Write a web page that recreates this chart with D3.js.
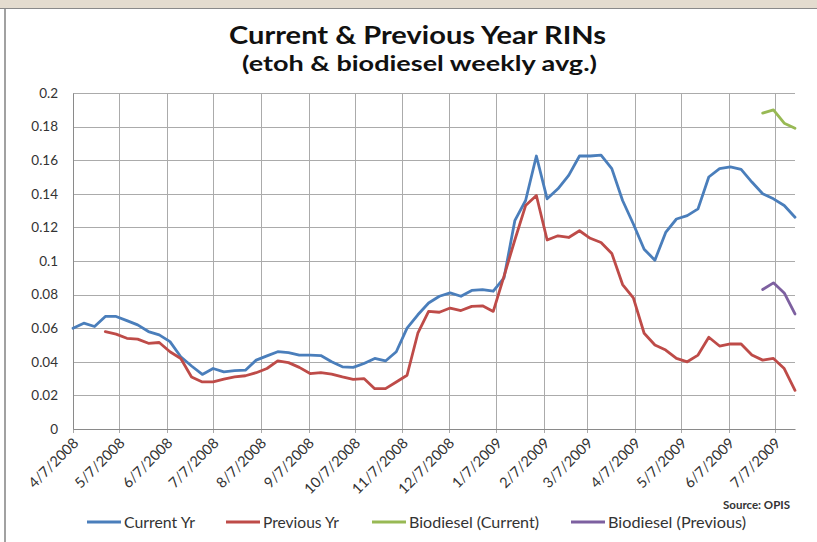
<!DOCTYPE html>
<html>
<head>
<meta charset="utf-8">
<script src="https://cdn.jsdelivr.net/npm/d3@7"></script>
<style>
  body { margin: 0; background: #fff; }
  svg { display: block; font-family: Lato, "Open Sans", sans-serif; }
</style>
</head>
<body>
<svg id="chart" width="817" height="542"></svg>
<script>
// ---- data ----
const startDate = "4/7/2008";
const weekCount = 68;
const currentYr = [0.060,0.063,0.061,0.067,0.067,0.0645,0.062,0.058,0.056,0.052,
  0.043,0.0375,0.0325,0.036,0.034,0.0347,0.035,0.041,0.0435,0.046,
  0.0455,0.044,0.044,0.0437,0.040,0.037,0.0367,0.039,0.042,0.0405,
  0.046,0.060,0.068,0.075,0.079,0.081,0.079,0.0825,0.083,0.082,
  0.090,0.124,0.136,0.1625,0.137,0.143,0.151,0.1625,0.1625,0.163,
  0.155,0.136,0.122,0.107,0.1005,0.117,0.125,0.127,0.131,0.150,
  0.155,0.156,0.1545,0.147,0.140,0.137,0.133,0.126];
const previousYr = [null,null,null,0.058,0.0565,0.054,0.0535,0.051,0.0515,0.046,
  0.042,0.031,0.028,0.028,0.0297,0.031,0.0317,0.0335,0.036,0.0405,
  0.0395,0.0367,0.033,0.0335,0.0327,0.031,0.0295,0.030,0.024,0.024,
  0.028,0.032,0.057,0.070,0.0695,0.072,0.0705,0.073,0.0733,0.070,
  0.091,0.1125,0.133,0.139,0.1125,0.115,0.114,0.118,0.1135,0.111,
  0.1045,0.086,0.078,0.057,0.050,0.047,0.042,0.040,0.044,0.0546,
  0.0494,0.0506,0.0506,0.044,0.041,0.042,0.036,0.023];
const biodieselCurrentWeeks = [64,65,66,67];
const biodieselCurrent = [0.188,0.190,0.182,0.179];
const biodieselPreviousWeeks = [64,65,66,67];
const biodieselPrevious = [0.083,0.087,0.081,0.0685];
const xTickLabels = ["4/7/2008","5/7/2008","6/7/2008","7/7/2008","8/7/2008","9/7/2008",
  "10/7/2008","11/7/2008","12/7/2008","1/7/2009","2/7/2009","3/7/2009","4/7/2009",
  "5/7/2009","6/7/2009","7/7/2009"];
const yTickValues = [0,0.02,0.04,0.06,0.08,0.1,0.12,0.14,0.16,0.18,0.2];
const yTickLabels = ["0","0.02","0.04","0.06","0.08","0.1","0.12","0.14","0.16","0.18","0.2"];
const seriesNames = ["Current Yr","Previous Yr","Biodiesel (Current)","Biodiesel (Previous)"];
const seriesColors = ["#4a7ebb","#be4b48","#98b954","#7d60a0"];

// ---- setup ----
const parse = d3.timeParse("%m/%d/%Y");
const start = parse(startDate);
const weekDate = i => d3.timeDay.offset(start, i * 7);
const svg = d3.select("#chart");
const W = 817, H = 542;
const plot = {left: 73, right: 795, top: 93, bottom: 429};

// background frame
svg.append("rect").attr("x",0).attr("y",0).attr("width",W).attr("height",H).attr("fill","#fff");
svg.append("rect").attr("x",0).attr("y",0).attr("width",W).attr("height",8).attr("fill","#e4dccf");
svg.append("line").attr("x1",0).attr("x2",W).attr("y1",8.5).attr("y2",8.5).attr("stroke","#8a8a8a").attr("stroke-width",1);
svg.append("line").attr("x1",5).attr("x2",5).attr("y1",8).attr("y2",H).attr("stroke","#8a8a8a").attr("stroke-width",1.6);

const x = d3.scaleTime()
  .domain([start, weekDate(weekCount - 1)])
  .range([plot.left, plot.right]);
const y = d3.scaleLinear().domain([0, 0.2]).range([plot.bottom, plot.top]);

const xTickDates = xTickLabels.map(parse);

// gridlines
const grid = svg.append("g");
grid.selectAll("line.h").data(yTickValues).join("line")
  .attr("x1", plot.left).attr("x2", plot.right)
  .attr("y1", d => Math.round(y(d)) + 0.5).attr("y2", d => Math.round(y(d)) + 0.5)
  .attr("stroke", "#ababab").attr("stroke-width", 1);
grid.selectAll("line.v").data(xTickDates).join("line")
  .attr("x1", d => Math.round(x(d)) + 0.5).attr("x2", d => Math.round(x(d)) + 0.5)
  .attr("y1", plot.top).attr("y2", plot.bottom + 4)
  .attr("stroke", "#ababab").attr("stroke-width", 1);

// y axis
const yAxis = d3.axisLeft(y).tickValues(yTickValues)
  .tickFormat((d, i) => yTickLabels[i]).tickSize(0).tickPadding(15);
const gy = svg.append("g").attr("transform", `translate(${plot.left},0)`).call(yAxis);
gy.select(".domain").attr("stroke", "#8a8a8a");
gy.selectAll("text").attr("font-size", 13.5).attr("fill", "#333").attr("font-family", "Lato, sans-serif");

// x axis
const xAxis = d3.axisBottom(x).tickValues(xTickDates)
  .tickFormat((d, i) => xTickLabels[i]).tickSize(0).tickPadding(0);
const gx = svg.append("g").attr("transform", `translate(0,${plot.bottom})`).call(xAxis);
gx.select(".domain").attr("stroke", "#8a8a8a");
gx.selectAll("text")
  .attr("font-size", 14.5).attr("fill", "#333").attr("font-family", "Lato, sans-serif")
  .attr("text-anchor", "end").attr("dy", null).attr("y", 0)
  .attr("transform", "translate(6,15) rotate(-45)");

// lines
const line = d3.line()
  .defined(d => d.v !== null && d.v !== undefined)
  .x(d => x(d.date)).y(d => y(d.v));
const seriesData = [
  currentYr.map((v, i) => ({date: weekDate(i), v})),
  previousYr.map((v, i) => ({date: weekDate(i), v})),
  biodieselCurrent.map((v, i) => ({date: weekDate(biodieselCurrentWeeks[i]), v})),
  biodieselPrevious.map((v, i) => ({date: weekDate(biodieselPreviousWeeks[i]), v}))
];
svg.append("g").selectAll("path").data(seriesData).join("path")
  .attr("d", line).attr("fill", "none")
  .attr("stroke", (d, i) => seriesColors[i])
  .attr("stroke-width", 2.8).attr("stroke-linejoin", "round").attr("stroke-linecap", "round");

// titles
svg.append("text").attr("x", 417.5).attr("y", 44).attr("text-anchor", "middle")
  .attr("font-size", 24).attr("font-weight", "bold").attr("fill", "#111")
  .attr("textLength", 377).attr("lengthAdjust", "spacingAndGlyphs")
  .text("Current & Previous Year RINs");
svg.append("text").attr("x", 419.5).attr("y", 71).attr("text-anchor", "middle")
  .attr("font-size", 20).attr("font-weight", "bold").attr("fill", "#111")
  .attr("textLength", 355).attr("lengthAdjust", "spacingAndGlyphs")
  .text("(etoh & biodiesel weekly avg.)");

// source
svg.append("text").attr("x", 790).attr("y", 509).attr("text-anchor", "end")
  .attr("font-size", 11.5).attr("font-weight", "bold").attr("fill", "#333")
  .text("Source: OPIS");

// legend
const legendX = [87, 226, 372, 571];
const legendTextW = [71, 76, 130, 138];
const lg = svg.append("g").selectAll("g").data(seriesNames).join("g")
  .attr("transform", (d, i) => `translate(${legendX[i]},522)`);
lg.append("line").attr("x1", 0).attr("x2", 34).attr("y1", 0).attr("y2", 0)
  .attr("stroke", (d, i) => seriesColors[i]).attr("stroke-width", 2.8);
lg.append("text").attr("x", 37).attr("y", 5.5).attr("font-size", 15.5).attr("fill", "#333")
  .attr("textLength", (d, i) => legendTextW[i]).attr("lengthAdjust", "spacingAndGlyphs")
  .text(d => d);
</script>
</body>
</html>
